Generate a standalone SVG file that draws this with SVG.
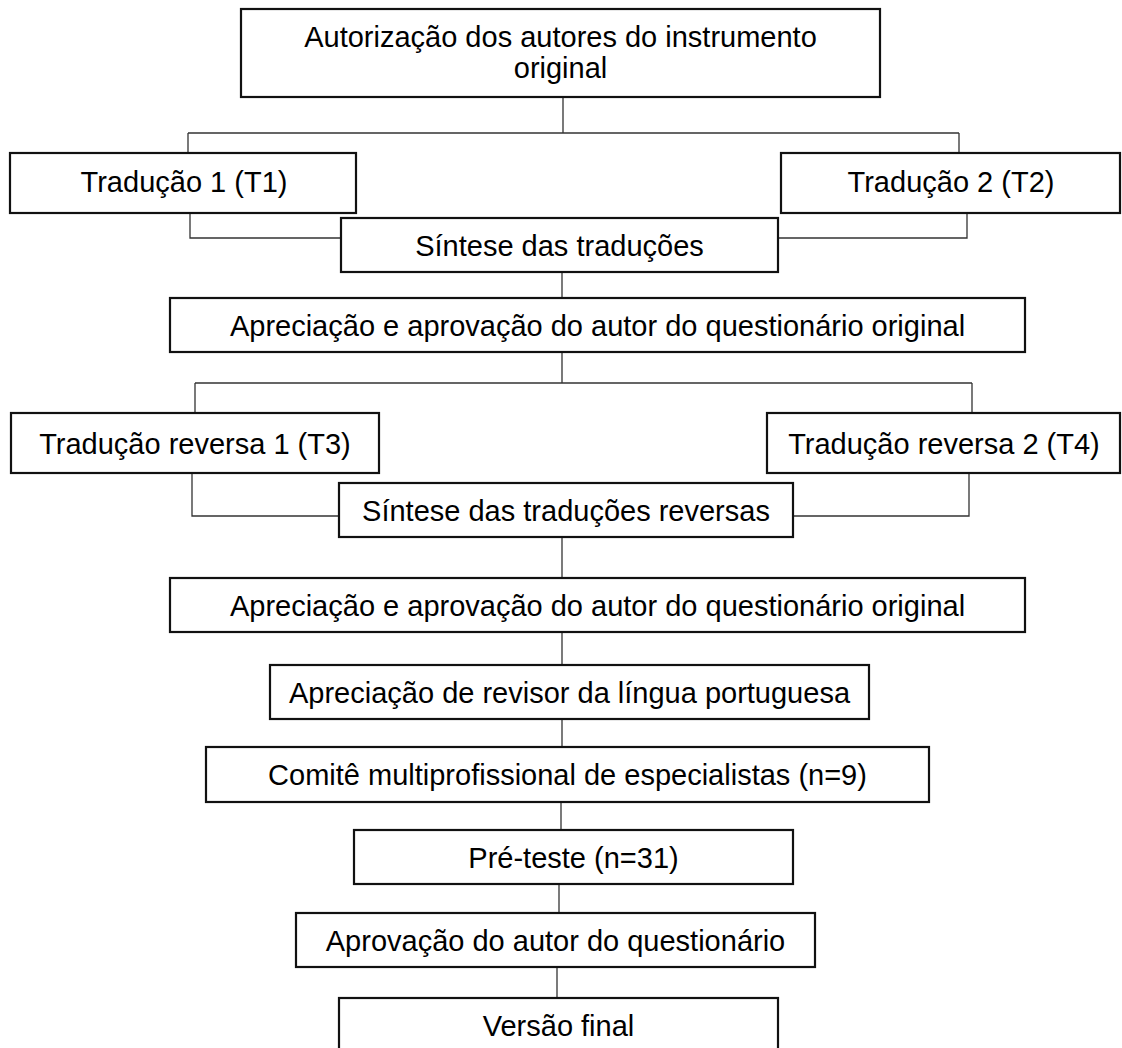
<svg xmlns="http://www.w3.org/2000/svg" width="1122" height="1048" viewBox="0 0 1122 1048">
<style>
.box{fill:#fff;stroke:#111;stroke-width:2.2}
.t{font-family:"Liberation Sans",Arial,sans-serif;font-size:29px;fill:#000;text-anchor:middle}
.c{fill:none;stroke:#333;stroke-width:1.3}
</style>
<rect width="1122" height="1048" fill="#fff"/>
<g id="connectors">
<path class="c" d="M563 97V133M188 133H959M188 133V153M959 133V153"/>
<path class="c" d="M190 213V238H341M967 213V238H778"/>
<path class="c" d="M562 272V298"/>
<path class="c" d="M562 352V383M195 383H972M195 383V413M972 383V413"/>
<path class="c" d="M192 473V516H339M969 473V516H793"/>
<path class="c" d="M562 537V578"/>
<path class="c" d="M562 632V665"/>
<path class="c" d="M562 719V747"/>
<path class="c" d="M561 802V830"/>
<path class="c" d="M559 884V913"/>
<path class="c" d="M557 967V998"/>
</g>
<g id="n1"><rect class="box" x="241" y="9" width="639" height="88"/><text class="t" x="560.5" y="47">Autorização dos autores do instrumento</text><text class="t" x="560.5" y="78">original</text></g>
<g id="n2"><rect class="box" x="10" y="153" width="346" height="60"/><text class="t" x="184" y="192">Tradução 1 (T1)</text></g>
<g id="n3"><rect class="box" x="781" y="153" width="339" height="60"/><text class="t" x="951" y="192">Tradução 2 (T2)</text></g>
<g id="n4"><rect class="box" x="341" y="218" width="437" height="54"/><text class="t" x="559.5" y="256">Síntese das traduções</text></g>
<g id="n5"><rect class="box" x="170" y="298" width="855" height="54"/><text class="t" x="597.5" y="336">Apreciação e aprovação do autor do questionário original</text></g>
<g id="n6"><rect class="box" x="11" y="413" width="368" height="60"/><text class="t" x="195" y="454">Tradução reversa 1 (T3)</text></g>
<g id="n7"><rect class="box" x="767" y="413" width="353" height="60"/><text class="t" x="944" y="454">Tradução reversa 2 (T4)</text></g>
<g id="n8"><rect class="box" x="339" y="483" width="454" height="54"/><text class="t" x="566" y="521">Síntese das traduções reversas</text></g>
<g id="n9"><rect class="box" x="170" y="578" width="855" height="54"/><text class="t" x="597.5" y="616">Apreciação e aprovação do autor do questionário original</text></g>
<g id="n10"><rect class="box" x="270" y="665" width="599" height="54"/><text class="t" x="569.5" y="703">Apreciação de revisor da língua portuguesa</text></g>
<g id="n11"><rect class="box" x="206" y="747" width="723" height="55"/><text class="t" x="567.5" y="785">Comitê multiprofissional de especialistas (n=9)</text></g>
<g id="n12"><rect class="box" x="354" y="830" width="439" height="54"/><text class="t" x="573.5" y="868">Pré-teste (n=31)</text></g>
<g id="n13"><rect class="box" x="296" y="913" width="519" height="54"/><text class="t" x="555.5" y="951">Aprovação do autor do questionário</text></g>
<g id="n14"><rect class="box" x="339" y="998" width="439" height="60"/><text class="t" x="558.5" y="1036">Versão final</text></g>
</svg>
